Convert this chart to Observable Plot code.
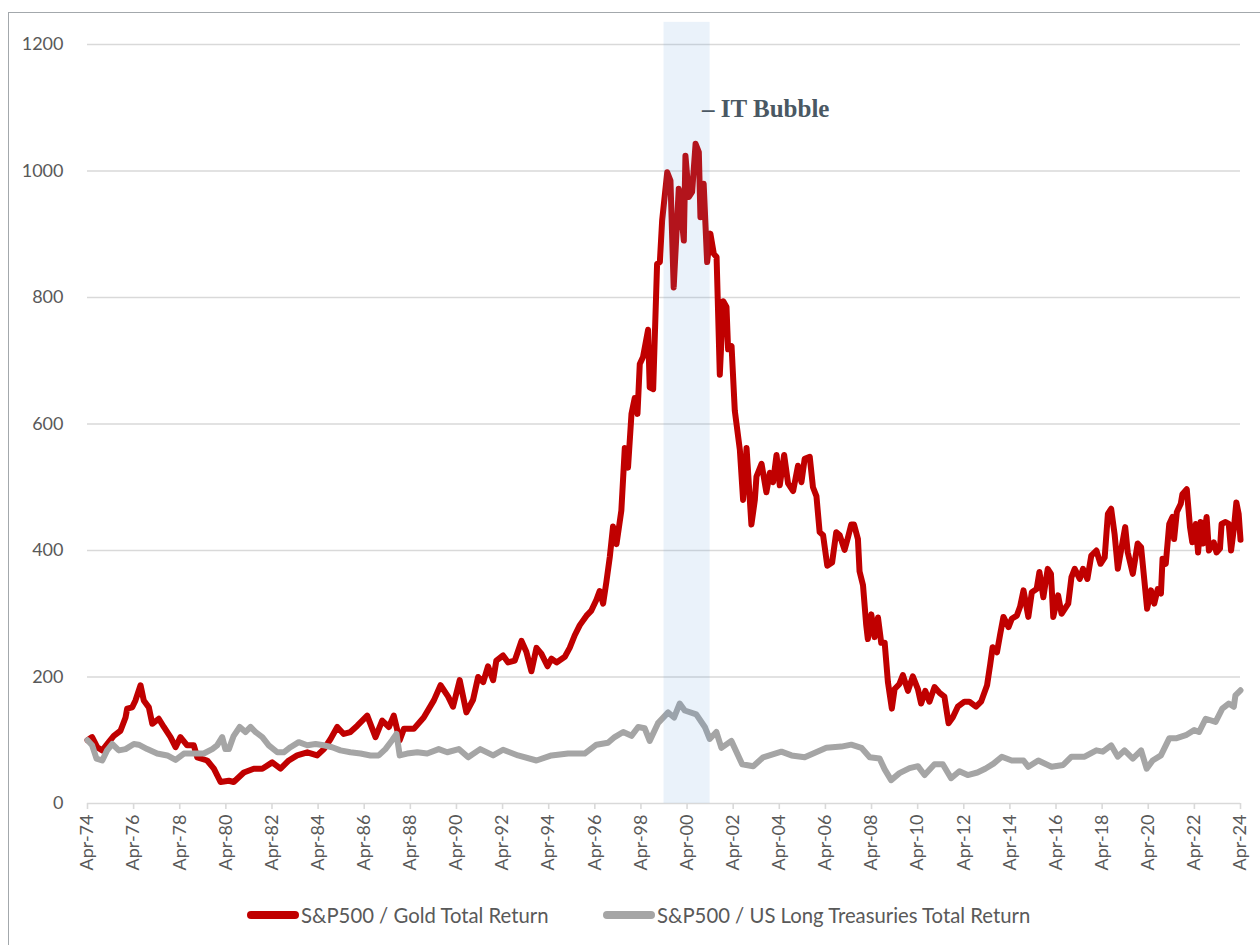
<!DOCTYPE html>
<html><head><meta charset="utf-8">
<script src="https://cdn.jsdelivr.net/npm/d3@7"></script>
<script src="https://cdn.jsdelivr.net/npm/@observablehq/plot@0.6"></script>
<style>
body{margin:0;background:#fff;font-family:Lato,sans-serif;}
#wrap{position:relative;width:1260px;height:945px;overflow:hidden;}
#frame{position:absolute;left:8px;top:12px;width:1300px;height:1000px;border-left:1.5px solid #a3a8ac;border-top:1.5px solid #a3a8ac;}
#chart{position:absolute;left:0;top:0;}
.leg{position:absolute;top:902px;display:flex;align-items:center;font-size:20.3px;color:#595959;white-space:nowrap;line-height:26px;}
.sw{display:inline-block;width:52px;height:8px;border-radius:4px;margin-right:2px;}
</style></head><body>
<div id="wrap"><div id="frame"></div><div id="chart"></div></div>
<script>
// ---- data (decimal years; Apr = .25) ----
const seriesNames = ["S&P500 / Gold Total Return", "S&P500 / US Long Treasuries Total Return"];
const seriesColors = ["#c00000", "#a5a5a5"];

const goldYears = [1974.25,1974.45,1974.67,1974.89,1975.17,1975.39,1975.68,1975.9,1975.97,1976.19,1976.33,1976.55,1976.69,1976.91,1977.06,1977.34,1977.56,1977.85,1978.07,1978.28,1978.57,1978.86,1979.01,1979.44,1979.73,1980.02,1980.38,1980.59,1981.03,1981.46,1981.83,1982.26,1982.62,1982.98,1983.34,1983.78,1984.21,1984.5,1984.79,1985.08,1985.36,1985.65,1985.95,1986.38,1986.74,1987.03,1987.32,1987.53,1987.79,1987.97,1988.4,1988.83,1989.27,1989.56,1989.89,1990.1,1990.39,1990.68,1990.97,1991.19,1991.41,1991.62,1991.84,1991.98,1992.27,1992.49,1992.78,1993.07,1993.28,1993.5,1993.72,1993.93,1994.2,1994.37,1994.59,1994.95,1995.16,1995.38,1995.6,1995.89,1996.1,1996.32,1996.46,1996.61,1996.75,1996.9,1997.04,1997.19,1997.4,1997.55,1997.69,1997.84,1997.98,1998.1,1998.2,1998.34,1998.56,1998.63,1998.78,1998.95,1999.07,1999.17,1999.39,1999.53,1999.67,1999.89,2000.11,2000.18,2000.33,2000.47,2000.62,2000.76,2000.83,2000.97,2001.12,2001.26,2001.41,2001.53,2001.67,2001.82,2001.96,2002.03,2002.18,2002.32,2002.54,2002.68,2002.83,2003.04,2003.19,2003.26,2003.48,2003.69,2003.84,2003.98,2004.13,2004.27,2004.46,2004.63,2004.85,2005.06,2005.21,2005.35,2005.57,2005.71,2005.86,2006.0,2006.15,2006.33,2006.54,2006.72,2006.87,2007.08,2007.23,2007.37,2007.49,2007.66,2007.73,2007.88,2008.02,2008.09,2008.24,2008.38,2008.53,2008.67,2008.82,2008.96,2009.13,2009.25,2009.46,2009.61,2009.83,2010.04,2010.26,2010.4,2010.58,2010.76,2010.98,2011.2,2011.41,2011.59,2011.77,2011.99,2012.28,2012.49,2012.78,2013.0,2013.26,2013.4,2013.5,2013.69,2013.83,2013.97,2014.19,2014.33,2014.55,2014.69,2014.84,2015.05,2015.2,2015.41,2015.53,2015.7,2015.89,2016.03,2016.13,2016.34,2016.49,2016.78,2016.92,2017.06,2017.28,2017.42,2017.61,2017.78,2018.0,2018.18,2018.36,2018.5,2018.64,2018.79,2018.93,2019.07,2019.25,2019.36,2019.58,2019.79,2019.94,2020.08,2020.2,2020.37,2020.51,2020.66,2020.8,2020.87,2021.01,2021.16,2021.3,2021.37,2021.49,2021.66,2021.73,2021.92,2022.06,2022.16,2022.31,2022.41,2022.52,2022.63,2022.78,2022.88,2023.09,2023.21,2023.36,2023.43,2023.6,2023.74,2023.84,2023.96,2024.07,2024.17,2024.25];
const goldValues = [100,105,89,84,97,107,115,136,150,152,163,187,163,152,126,134,121,105,89,105,92,92,73,68,55,34,36,34,49,55,55,65,55,68,76,81,76,86,102,121,110,113,123,139,105,131,121,139,100,118,118,136,163,187,169,153,195,144,164,200,192,217,195,226,234,223,226,257,240,209,246,237,217,229,223,232,246,266,282,297,305,322,336,316,350,390,438,410,463,562,531,616,641,616,695,706,749,658,655,853,856,922,998,985,816,972,890,1024,959,967,1043,1030,927,980,856,901,869,864,678,794,785,718,723,621,559,480,562,441,480,517,537,492,523,508,551,503,551,506,494,534,508,545,548,500,486,429,424,376,381,429,424,401,421,441,441,418,367,345,282,260,299,263,294,254,254,192,150,181,189,203,178,201,181,158,178,161,184,175,169,127,136,153,161,161,153,161,187,221,247,239,268,295,279,292,297,311,337,295,334,339,366,326,371,363,295,329,300,316,358,371,355,371,355,392,400,379,389,458,466,426,371,400,437,397,363,411,405,353,308,337,316,339,332,387,379,442,453,418,461,474,489,497,437,413,442,397,445,411,453,400,413,397,403,442,445,442,400,434,476,458,417];

const tsyYears = [1974.25,1974.45,1974.64,1974.89,1975.1,1975.32,1975.61,1975.9,1976.26,1976.47,1976.84,1977.27,1977.71,1978.07,1978.43,1978.86,1979.29,1979.66,1979.87,1980.09,1980.23,1980.38,1980.59,1980.85,1981.1,1981.32,1981.54,1981.83,1982.11,1982.48,1982.76,1983.05,1983.41,1983.78,1984.14,1984.5,1984.86,1985.22,1985.65,1986.09,1986.52,1986.88,1987.17,1987.46,1987.65,1987.79,1988.11,1988.55,1988.98,1989.48,1989.85,1990.35,1990.76,1991.28,1991.84,1992.27,1992.92,1993.72,1994.37,1995.09,1995.81,1996.32,1996.82,1997.11,1997.48,1997.84,1998.13,1998.41,1998.63,1998.99,1999.43,1999.69,1999.93,2000.15,2000.65,2001.02,2001.23,2001.52,2001.74,2002.17,2002.64,2003.12,2003.55,2004.34,2004.78,2005.35,2006.29,2006.94,2007.37,2007.81,2008.17,2008.6,2008.82,2009.1,2009.46,2009.9,2010.26,2010.55,2010.98,2011.34,2011.7,2012.06,2012.42,2012.84,2013.18,2013.54,2013.9,2014.33,2014.84,2015.05,2015.48,2016.06,2016.56,2016.92,2017.49,2018.0,2018.28,2018.64,2018.93,2019.22,2019.58,2019.94,2020.18,2020.44,2020.8,2021.16,2021.45,2021.88,2022.24,2022.45,2022.74,2023.17,2023.46,2023.74,2023.96,2024.03,2024.25];
const tsyValues = [100,92,71,68,84,94,84,86,94,93,86,79,76,69,79,79,79,86,92,105,86,86,107,121,113,121,113,105,92,81,81,89,97,92,94,92,89,84,81,79,76,76,86,100,110,76,79,81,79,86,81,86,73,86,76,85,76,68,76,79,79,93,96,105,113,107,121,119,99,127,144,136,158,147,141,121,102,113,88,99,62,59,73,82,76,73,88,90,93,88,73,71,54,37,48,56,59,45,62,62,40,51,45,49,55,63,74,68,68,58,68,58,61,74,74,84,82,92,74,84,71,84,55,68,76,103,103,108,116,113,134,129,150,158,153,171,179];

const tickYears = [1974.25,1976.25,1978.25,1980.25,1982.25,1984.25,1986.25,1988.25,1990.25,1992.25,1994.25,1996.25,1998.25,2000.25,2002.25,2004.25,2006.25,2008.25,2010.25,2012.25,2014.25,2016.25,2018.25,2020.25,2022.25,2024.25];
const tickLabels = ["Apr-74","Apr-76","Apr-78","Apr-80","Apr-82","Apr-84","Apr-86","Apr-88","Apr-90","Apr-92","Apr-94","Apr-96","Apr-98","Apr-00","Apr-02","Apr-04","Apr-06","Apr-08","Apr-10","Apr-12","Apr-14","Apr-16","Apr-18","Apr-20","Apr-22","Apr-24"];
const yTicks = [0,200,400,600,800,1000,1200];

const bubbleStart = 1999.25, bubbleEnd = 2001.25, bubbleTop = 1235;
const bubbleLabel = "– IT Bubble", bubbleLabelX = 2000.9, bubbleLabelY = 1085;

// ---- build tables ----
const gold = goldYears.map((x, i) => ({x, y: goldValues[i]}));
const tsy = tsyYears.map((x, i) => ({x, y: tsyValues[i]}));

const chart = Plot.plot({
  width: 1260, height: 890,
  marginLeft: 87, marginRight: 20, marginTop: 44, marginBottom: 87,
  style: {color: "#595959", fontFamily: "Lato, sans-serif", fontSize: "18px", background: "transparent", overflow: "visible"},
  x: {type: "linear", domain: [1974.25, 2024.25]},
  y: {domain: [0, 1200]},
  marks: [
    Plot.gridY(yTicks.filter(d => d > 0), {stroke: "#d9d9d9", strokeOpacity: 1, strokeWidth: 1.6}),
    Plot.ruleY([0], {stroke: "#d9d9d9", strokeWidth: 1.6}),
    Plot.axisY(yTicks, {tickSize: 0, tickPadding: 24, label: null, fill: "#595959", tickFormat: (d) => String(d)}),
    Plot.axisX(tickYears, {tickSize: 6, tickPadding: 5, tickRotate: -90, label: null,
      tickFormat: (d) => tickLabels[tickYears.indexOf(d)], stroke: "#d9d9d9", strokeWidth: 1.6, fill: "#595959"}),
    Plot.line(gold, {x: "x", y: "y", stroke: seriesColors[0], strokeWidth: 6, strokeLinejoin: "round", strokeLinecap: "round"}),
    Plot.line(tsy, {x: "x", y: "y", stroke: seriesColors[1], strokeWidth: 6, strokeLinejoin: "round", strokeLinecap: "round"}),
    Plot.rect([{a: bubbleStart, b: bubbleEnd, t: bubbleTop}], {x1: "a", x2: "b", y1: 0, y2: "t", fill: "#5b9bd5", fillOpacity: 0.13}),
    Plot.text([{x: bubbleLabelX, y: bubbleLabelY, t: bubbleLabel}], {x: "x", y: "y", text: "t", textAnchor: "start", lineAnchor: "bottom",
      fontFamily: "Liberation Serif", fontWeight: "bold", fontSize: 25, fill: "#4a5863"})
  ]
});
document.getElementById("chart").appendChild(chart);

// ---- legend ----
const legLefts = [247, 603];
const wrap = document.getElementById("wrap");
seriesNames.forEach((name, i) => {
  const d = document.createElement("div");
  d.className = "leg";
  d.style.left = legLefts[i] + "px";
  const sw = document.createElement("span");
  sw.className = "sw";
  sw.style.background = seriesColors[i];
  d.appendChild(sw);
  d.appendChild(document.createTextNode(name));
  wrap.appendChild(d);
});
</script>
</body></html>
